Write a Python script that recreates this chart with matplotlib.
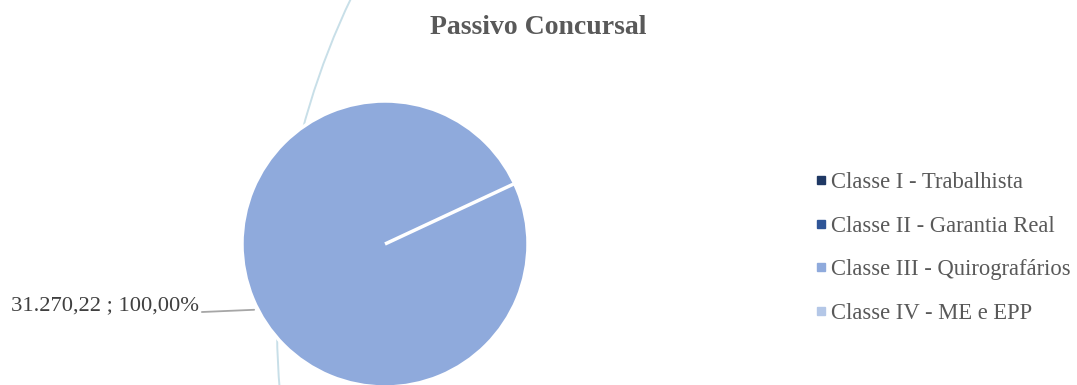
import matplotlib
matplotlib.use("Agg")
import matplotlib.pyplot as plt
from matplotlib.lines import Line2D
from matplotlib.patches import Arc

plt.rcParams['font.family'] = ['Liberation Serif', 'DejaVu Serif']

# data
categories = ["Classe I - Trabalhista", "Classe II - Garantia Real",
              "Classe III - Quirografários", "Classe IV - ME e EPP"]
values = [0.0, 0.0, 31270.22, 0.0]
colors = ["#1f3864", "#2f5597", "#8faadc", "#b4c7e7"]
title = "Passivo Concursal"

W, H = 1077, 385
fig = plt.figure(figsize=(W / 100, H / 100), dpi=100)

# faint decorative arc in the background (pixel coordinates)
bg = fig.add_axes([0, 0, 1, 1], zorder=0)
bg.set_xlim(0, W)
bg.set_ylim(0, H)
bg.axis("off")
bg.add_patch(Arc((1035, H - 325), 2 * 758, 2 * 758, theta1=150, theta2=185,
                 color="#c8dfe8", lw=1.4))

# pie axes: centre (385, 244) px, radius 143 px
r = 143
ax = fig.add_axes([(385 - r) / W, (H - 244 - r) / H, 2 * r / W, 2 * r / H], zorder=1)
ax.patch.set_alpha(0)
wedges, _ = ax.pie(values, colors=colors, startangle=25, counterclock=False,
                   wedgeprops=dict(edgecolor="white", linewidth=2.5))
ax.set_xlim(-1, 1)
ax.set_ylim(-1, 1)
ax.set_aspect("equal")

# data label for the only non-zero slice
total = sum(values)
i = 2
lbl = f"{values[i]:,.2f}".replace(",", "X").replace(".", ",").replace("X", ".")
pct = f"{values[i] / total * 100:.2f}".replace(".", ",")
ax.annotate(f"{lbl} ; {pct}%", xy=(-0.915, -0.46), xytext=(-1.3, -0.43),
            ha="right", va="center", fontsize=16.2, color="#404040",
            annotation_clip=False,
            arrowprops=dict(arrowstyle="-", color="#a6a6a6", lw=1.3,
                            shrinkA=0, shrinkB=0, relpos=(1.0, 0.15)))

fig.text(538 / W, 1 - 28 / H, title, ha="center", va="center",
         fontsize=20, fontweight="bold", color="#595959")

handles = [Line2D([], [], marker="s", linestyle="none", markersize=6,
                  markerfacecolor=c, markeredgecolor=c) for c in colors]
fig.legend(handles, categories, loc="center left",
           bbox_to_anchor=(805 / W, 1 - 248 / H), frameon=False,
           fontsize=16.3, labelcolor="#595959", handlelength=0.6,
           handletextpad=0.15, labelspacing=0.99, borderaxespad=0)

fig.savefig("out.png", dpi=100)
